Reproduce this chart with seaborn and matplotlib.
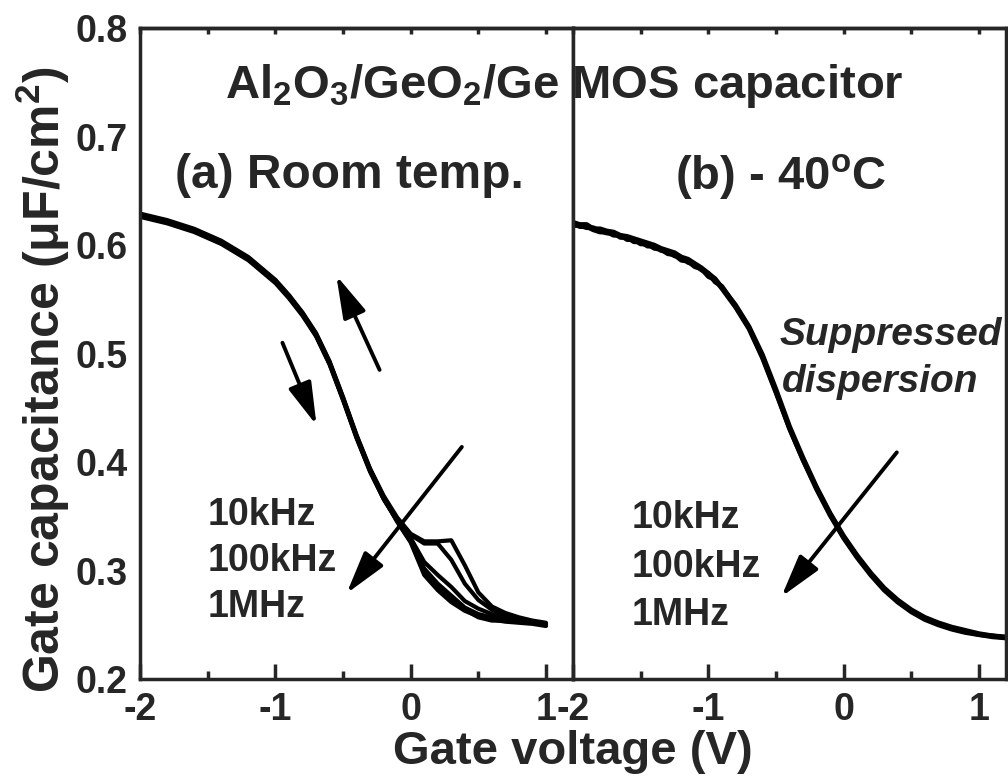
import numpy as np
import pandas as pd
import matplotlib
matplotlib.use("Agg")
import matplotlib.pyplot as plt
from matplotlib.ticker import MultipleLocator
import seaborn as sns

# ---------------- data ----------------
# (a) room temperature: gate voltage grid and six C-V sweeps (uF/cm^2)
V_L = [-2.0, -1.8, -1.6, -1.4, -1.2, -1.0, -0.9, -0.8, -0.7, -0.6, -0.5, -0.4, -0.3,
       -0.2, -0.1, 0.0, 0.1, 0.2, 0.3, 0.4, 0.5, 0.6, 0.7, 0.8, 0.9, 1.0]
C_L_10k_a = [0.629, 0.623, 0.615, 0.604, 0.589, 0.568, 0.554, 0.538, 0.519, 0.493, 0.460, 0.425, 0.394,
             0.369, 0.349, 0.334, 0.327, 0.327, 0.328, 0.305, 0.280, 0.267, 0.261, 0.257, 0.254, 0.252]
C_L_10k_b = [0.627, 0.621, 0.613, 0.602, 0.587, 0.566, 0.552, 0.536, 0.517, 0.491, 0.458, 0.423, 0.392,
             0.367, 0.348, 0.333, 0.325, 0.325, 0.310, 0.288, 0.273, 0.264, 0.259, 0.256, 0.253, 0.251]
C_L_100k_a = [0.628, 0.622, 0.614, 0.603, 0.588, 0.567, 0.553, 0.537, 0.518, 0.492, 0.459, 0.424, 0.393,
              0.368, 0.347, 0.330, 0.308, 0.296, 0.285, 0.272, 0.265, 0.260, 0.257, 0.254, 0.253, 0.250]
C_L_100k_b = [0.626, 0.620, 0.612, 0.601, 0.586, 0.565, 0.551, 0.535, 0.516, 0.490, 0.457, 0.422, 0.391,
              0.366, 0.346, 0.328, 0.302, 0.288, 0.277, 0.266, 0.260, 0.257, 0.255, 0.253, 0.252, 0.250]
C_L_1M_a = [0.628, 0.622, 0.614, 0.603, 0.588, 0.567, 0.553, 0.537, 0.518, 0.492, 0.459, 0.424, 0.393,
            0.367, 0.345, 0.326, 0.296, 0.282, 0.271, 0.263, 0.258, 0.255, 0.253, 0.252, 0.251, 0.249]
C_L_1M_b = [0.627, 0.621, 0.613, 0.602, 0.587, 0.566, 0.552, 0.536, 0.517, 0.491, 0.458, 0.423, 0.392,
            0.366, 0.346, 0.327, 0.298, 0.284, 0.273, 0.264, 0.257, 0.254, 0.254, 0.253, 0.252, 0.250]

# (b) -40 C: gate voltage grid and C-V sweeps
V_R = [-2.0, -1.95, -1.9, -1.85, -1.8, -1.75, -1.7, -1.65, -1.6, -1.55, -1.5, -1.45, -1.4, -1.35,
       -1.3, -1.25, -1.2, -1.15, -1.1, -1.05, -1.0, -0.95, -0.9,
       -0.8, -0.7, -0.6, -0.5, -0.4, -0.3, -0.2, -0.1, 0.0, 0.1, 0.2, 0.3, 0.4, 0.5, 0.6, 0.7,
       0.8, 0.9, 1.0, 1.1, 1.2]
C_R_10k = [0.621, 0.619, 0.619, 0.615, 0.615, 0.613, 0.612, 0.609, 0.608, 0.606, 0.604, 0.602, 0.600, 0.597,
           0.595, 0.593, 0.589, 0.587, 0.583, 0.579, 0.574, 0.569, 0.561,
           0.545, 0.525, 0.499, 0.467, 0.433, 0.404, 0.377, 0.353, 0.332, 0.314, 0.298, 0.284, 0.273, 0.264,
           0.257, 0.252, 0.248, 0.245, 0.242, 0.240, 0.239]
C_R_100k = [0.618, 0.618, 0.616, 0.616, 0.613, 0.611, 0.611, 0.607, 0.607, 0.603, 0.603, 0.599, 0.599, 0.595,
            0.594, 0.590, 0.589, 0.584, 0.582, 0.577, 0.574, 0.566, 0.562,
            0.544, 0.524, 0.497, 0.465, 0.431, 0.402, 0.375, 0.351, 0.330, 0.312, 0.296, 0.282, 0.271, 0.262,
            0.255, 0.250, 0.246, 0.243, 0.241, 0.239, 0.238]
C_R_1M = [0.620, 0.617, 0.617, 0.614, 0.612, 0.612, 0.609, 0.609, 0.605, 0.605, 0.601, 0.601, 0.597, 0.596,
          0.592, 0.591, 0.586, 0.585, 0.580, 0.578, 0.571, 0.568, 0.560,
          0.543, 0.523, 0.496, 0.464, 0.431, 0.402, 0.376, 0.352, 0.331, 0.313, 0.297, 0.283, 0.272, 0.263,
          0.256, 0.251, 0.247, 0.244, 0.241, 0.240, 0.238]

freq_labels = ["10kHz", "100kHz", "1MHz"]
x_ticks = [-2, -1, 0, 1]
y_ticks = [0.2, 0.3, 0.4, 0.5, 0.6, 0.7, 0.8]

left_curves = {"10k_a": C_L_10k_a, "10k_b": C_L_10k_b, "100k_a": C_L_100k_a,
               "100k_b": C_L_100k_b, "1M_a": C_L_1M_a, "1M_b": C_L_1M_b}
right_curves = {"10k": C_R_10k, "100k": C_R_100k, "1M": C_R_1M}

df_left = pd.concat([pd.DataFrame({"V": V_L, "C": c, "curve": k}) for k, c in left_curves.items()],
                    ignore_index=True)
df_right = pd.concat([pd.DataFrame({"V": V_R, "C": c, "curve": k}) for k, c in right_curves.items()],
                     ignore_index=True)

# ---------------- style ----------------
sns.set_style("ticks")
plt.rcParams["font.family"] = ["Liberation Sans", "DejaVu Sans"]
plt.rcParams["font.weight"] = "bold"
plt.rcParams["mathtext.fontset"] = "custom"
plt.rcParams["mathtext.rm"] = "Liberation Sans:bold"
plt.rcParams["mathtext.bf"] = "Liberation Sans:bold"
plt.rcParams["mathtext.it"] = "Liberation Sans:bold:italic"
plt.rcParams["mathtext.default"] = "regular"

fig, (ax1, ax2) = plt.subplots(1, 2, sharey=True, figsize=(10.08, 7.78), dpi=100)
fig.subplots_adjust(left=0.139, right=0.998, bottom=0.127, top=0.964, wspace=0)

sns.lineplot(data=df_left, x="V", y="C", units="curve", estimator=None, sort=False,
             color="black", lw=3.0, ax=ax1, legend=False)
sns.lineplot(data=df_right, x="V", y="C", units="curve", estimator=None, sort=False,
             color="black", lw=3.4, ax=ax2, legend=False)

TICK_FS = 27
for ax in (ax1, ax2):
    ax.set_xlim(-2, 1.2)
    ax.set_ylim(0.2, 0.8)
    ax.set_xticks(x_ticks)
    ax.set_xticklabels([str(t) for t in x_ticks])
    ax.xaxis.set_minor_locator(MultipleLocator(0.5))
    ax.tick_params(axis="x", which="major", direction="in", length=11, width=2.5,
                   labelsize=TICK_FS, pad=9)
    ax.tick_params(axis="x", which="minor", direction="in", length=6, width=2.5)
    ax.tick_params(axis="y", which="both", length=0, labelsize=TICK_FS, pad=9)
    for s in ax.spines.values():
        s.set_linewidth(2.5)
        s.set_visible(True)
    ax.set_xlabel("")
    ax.set_ylabel("")
    sec = ax.secondary_xaxis("top")
    sec.set_xticks(np.arange(-2, 1.21, 0.5))
    sec.tick_params(direction="in", length=4, width=2.5, labeltop=False)
    sec.spines["top"].set_linewidth(2.5)

ax1.set_yticks(y_ticks)
ax1.set_yticklabels([f"{t:.1f}" for t in y_ticks])
for lab in ax1.get_yticklabels() + ax1.get_xticklabels() + ax2.get_xticklabels():
    lab.set_fontweight("bold")

ax1.set_ylabel("Gate capacitance (\u03bcF/cm$^2$)", fontsize=36, fontweight="bold")
ax1.yaxis.set_label_coords(-0.158, 0.46)
fig.text(573 / 1008, 1 - 752 / 778, "Gate voltage (V)", fontsize=34, fontweight="bold",
         ha="center", va="center")

# titles
fig.text(564 / 1008, 1 - 98 / 778, "Al$_2$O$_3$/GeO$_2$/Ge MOS capacitor", fontsize=34,
         fontweight="bold", ha="center", va="baseline")
fig.text(175 / 1008, 1 - 188 / 778, "(a) Room temp.", fontsize=34.5, fontweight="bold",
         ha="left", va="baseline")
fig.text(675 / 1008, 1 - 189 / 778, "(b) - 40$^o$C", fontsize=34, fontweight="bold",
         ha="left", va="baseline")

# frequency labels
for lab, yb in zip(freq_labels, [0.342, 0.300, 0.257]):
    ax1.text(-1.50, yb, lab, fontsize=27, fontweight="bold", ha="left", va="baseline")
for lab, yb in zip(freq_labels, [0.339, 0.294, 0.250]):
    ax2.text(-1.57, yb, lab, fontsize=27, fontweight="bold", ha="left", va="baseline")

ax2.text(-0.474, 0.508, "Suppressed", fontsize=28, fontweight="bold", style="italic",
         ha="left", va="baseline")
ax2.text(-0.459, 0.4645, "dispersion", fontsize=28, fontweight="bold", style="italic",
         ha="left", va="baseline")

# arrows
aprops = dict(arrowstyle="-|>,head_length=1.0,head_width=0.28", lw=2.8, color="black",
              mutation_scale=26, shrinkA=0, shrinkB=0)
ax1.annotate("", xy=(-0.696, 0.434), xytext=(-0.948, 0.510), arrowprops=aprops)
ax1.annotate("", xy=(-0.55, 0.572), xytext=(-0.23, 0.485), arrowprops=aprops)
ax1.annotate("", xy=(-0.474, 0.279), xytext=(0.378, 0.414), arrowprops=aprops)
ax2.annotate("", xy=(-0.46, 0.276), xytext=(0.393, 0.409), arrowprops=aprops)

fig.savefig("out.png", dpi=100)
